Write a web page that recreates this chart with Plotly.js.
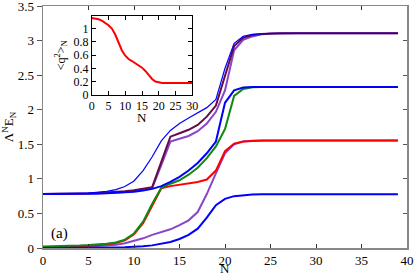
<!DOCTYPE html>
<html><head><meta charset="utf-8">
<script src="https://cdn.plot.ly/plotly-3.0.1.min.js"></script>
<style>html,body{margin:0;padding:0;background:#fff}#chart{width:415px;height:275px}</style>
</head><body><div id="chart"></div>
<script>
// N values 0..39
const N = Array.from({length:40},(_,i)=>i);
// Upper group (start ~0.78)
const blueThin   = [0.78,0.78,0.78,0.785,0.79,0.795,0.805,0.82,0.845,0.89,0.97,1.12,1.32,1.55,1.70,1.80,1.88,1.95,2.03,2.15,2.60,2.96,3.06,3.09,3.10,3.105,3.105,3.105,3.105,3.105,3.105,3.105,3.105,3.105,3.105,3.105,3.105,3.105,3.105,3.105];
const maroon     = [0.78,0.78,0.782,0.785,0.788,0.79,0.795,0.80,0.81,0.82,0.835,0.855,0.88,1.245,1.61,1.66,1.71,1.78,1.90,2.06,2.50,2.92,3.04,3.08,3.095,3.105,3.105,3.105,3.105,3.105,3.105,3.105,3.105,3.105,3.105,3.105,3.105,3.105,3.105,3.105];
const purpleUp   = [0.78,0.78,0.78,0.782,0.785,0.788,0.79,0.795,0.80,0.81,0.825,0.845,0.87,1.20,1.54,1.58,1.62,1.69,1.80,1.97,2.28,2.86,3.01,3.06,3.09,3.10,3.105,3.105,3.105,3.105,3.105,3.105,3.105,3.105,3.105,3.105,3.105,3.105,3.105,3.105];
const blueMid    = [0.78,0.78,0.78,0.782,0.784,0.786,0.789,0.792,0.797,0.805,0.815,0.83,0.855,0.895,0.955,1.03,1.12,1.23,1.37,1.54,2.10,2.28,2.32,2.33,2.33,2.33,2.33,2.33,2.33,2.33,2.33,2.33,2.33,2.33,2.33,2.33,2.33,2.33,2.33,2.33];
// Lower group (start ~0)
const green      = [0.02,0.022,0.026,0.03,0.035,0.042,0.05,0.062,0.08,0.12,0.21,0.38,0.64,0.87,0.93,0.98,1.06,1.16,1.30,1.47,1.72,2.20,2.30,2.325,2.33,2.33,2.33,2.33,2.33,2.33,2.33,2.33,2.33,2.33,2.33,2.33,2.33,2.33,2.33,2.33];
const red        = [0.012,0.014,0.018,0.022,0.027,0.034,0.042,0.054,0.072,0.11,0.20,0.36,0.61,0.865,0.895,0.915,0.935,0.955,0.99,1.12,1.40,1.51,1.54,1.55,1.553,1.553,1.553,1.553,1.553,1.553,1.553,1.553,1.553,1.553,1.553,1.553,1.553,1.553,1.553,1.553];
const purpleLow  = [0.004,0.006,0.009,0.013,0.017,0.022,0.028,0.036,0.048,0.07,0.10,0.14,0.19,0.23,0.27,0.33,0.40,0.52,0.78,1.08,1.37,1.50,1.54,1.55,1.553,1.553,1.553,1.553,1.553,1.553,1.553,1.553,1.553,1.553,1.553,1.553,1.553,1.553,1.553,1.553];
const blueLow    = [0.0,0.0,0.001,0.002,0.003,0.004,0.005,0.007,0.009,0.012,0.016,0.024,0.038,0.058,0.088,0.13,0.19,0.28,0.44,0.62,0.71,0.75,0.765,0.773,0.776,0.777,0.777,0.777,0.777,0.777,0.777,0.777,0.777,0.777,0.777,0.777,0.777,0.777,0.777,0.777];
// Inset: <q^2>_N vs N
const Nin = Array.from({length:31},(_,i)=>i);
const q2 = [1.16,1.155,1.14,1.12,1.09,1.05,1.0,0.91,0.79,0.67,0.59,0.54,0.51,0.48,0.45,0.41,0.36,0.30,0.24,0.20,0.185,0.18,0.18,0.18,0.18,0.18,0.18,0.18,0.18,0.18,0.18];

const C = {blue:'#0000ff', red:'#ff0000', green:'#0f8a0f', maroon:'#650a48', purple:'#8a45c8'};
function tr(y,color,w){return {x:N,y:y,type:'scatter',mode:'lines',line:{color:color,width:w},xaxis:'x',yaxis:'y',hoverinfo:'skip'};}
const data = [
  tr(purpleLow,C.purple,2), tr(red,C.red,2), tr(green,C.green,2),
  tr(purpleUp,C.purple,2), tr(maroon,C.maroon,2),
  tr(blueLow,C.blue,2), tr(blueMid,C.blue,2), tr(blueThin,C.blue,1.2),
  {x:Nin,y:q2,type:'scatter',mode:'lines',line:{color:'#ff0000',width:2},xaxis:'x2',yaxis:'y2',hoverinfo:'skip'},
  {x:[0],y:[0],type:'scatter',mode:'none',xaxis:'x',yaxis:'y3',hoverinfo:'skip',showlegend:false}
];
const FAM = 'Liberation Serif';
const font = {family:FAM, size:13, color:'#000'};
const ifont = {family:FAM, size:12, color:'#000'};
const layout = {
  width:415, height:275, showlegend:false,
  margin:{l:43,r:8,t:6,b:26.5},
  paper_bgcolor:'#fff', plot_bgcolor:'#fff', font:font,
  xaxis:{domain:[0,1],range:[0,40],dtick:5,tick0:0,ticks:'inside',ticklen:4,tickcolor:'#333',
    showline:true,linecolor:'#888',linewidth:1.5,mirror:'ticks',showgrid:false,zeroline:false,
    tickfont:font,ticklabeloverflow:'allow'},
  yaxis:{range:[0,3.5],dtick:0.5,tick0:0,ticks:'outside',ticklen:5,tickcolor:'#555',
    showline:true,linecolor:'#888',linewidth:1.5,showgrid:false,zeroline:false,
    tickfont:font,ticklabeloverflow:'allow',title:{text:'Λ<sup>N</sup>E<sub>N</sub>',font:font,standoff:4}},
  yaxis3:{overlaying:'y',side:'right',range:[0,3.5],dtick:0.5,tick0:0,ticks:'inside',ticklen:4,tickcolor:'#555',
    showline:true,linecolor:'#888',linewidth:1.5,showticklabels:false,showgrid:false,zeroline:false},
  xaxis2:{domain:[0.134,0.410],anchor:'y2',range:[0,30],dtick:5,ticks:'inside',ticklen:4,tickcolor:'#000',
    showline:true,linecolor:'#000',linewidth:1,mirror:'ticks',showgrid:false,zeroline:false,
    tickfont:ifont},
  yaxis2:{domain:[0.633,0.96],anchor:'x2',range:[0,1.195],dtick:0.2,ticks:'inside',ticklen:4,tickcolor:'#000',
    showline:true,linecolor:'#000',linewidth:1,mirror:'ticks',showgrid:false,zeroline:false,
    tickfont:ifont,title:{text:'&lt;q<sup>2</sup>&gt;<sub>N</sub>',font:ifont,standoff:5}},
  annotations:[
    {text:'(a)',x:1.8,y:0.21,xref:'x',yref:'y',showarrow:false,font:{family:FAM,size:15,color:'#000'}},
    {text:'N',x:0.5,y:0,xref:'paper',yref:'paper',yshift:-12,borderpad:0,showarrow:false,yanchor:'top',font:{family:FAM,size:13,color:'#000'}},
    {text:'N',x:15,y:0,xref:'x2',yref:'y2',yshift:-14,borderpad:0,showarrow:false,yanchor:'top',font:{family:FAM,size:13,color:'#000'}}
  ]
};
Plotly.newPlot('chart',data,layout,{displayModeBar:false,staticPlot:true});
</script></body></html>
